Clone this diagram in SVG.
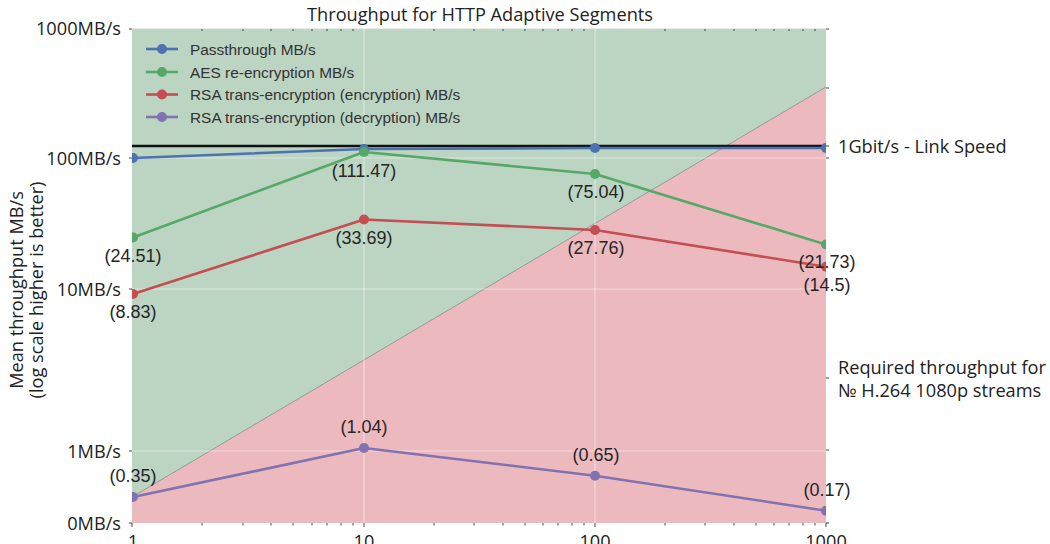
<svg xmlns="http://www.w3.org/2000/svg" width="1050" height="544" viewBox="0 0 1050 544">
  <style>
    .ax { font-family: "Open Sans", "DejaVu Sans", sans-serif; font-size: 18.2px; fill: #222; }
    .lg { font-family: "Liberation Sans", Arial, sans-serif; font-size: 15.4px; fill: #333; }
    .dl { font-family: "Liberation Sans", Arial, sans-serif; font-size: 18px; fill: #262626; text-anchor: middle; }
    .grid { stroke: #ffffff; stroke-opacity: 0.45; stroke-width: 1.2; }
    .tick { stroke: #444; stroke-width: 1; }
    .series { fill: none; stroke-width: 2.6; stroke-linejoin: round; }
  </style>
  <defs>
    <clipPath id="plotClip">
      <rect x="132" y="29" width="694" height="494"/>
    </clipPath>
  </defs>

  <rect width="1050" height="544" fill="#ffffff"/>

  <!-- plot background: feasible (green) above the stream-requirement diagonal, infeasible (pink) below -->
  <g id="background">
    <polygon points="132,29 826,29 826,87 132,497" fill="#bcd4c2"/>
    <polygon points="132,497 826,87 826,523 132,523" fill="#ecb9bf"/>
    <line x1="132" y1="497" x2="826" y2="87" stroke="#8f9a92" stroke-width="1"/>
    <line x1="132" y1="29" x2="826" y2="29" stroke="#cfd6d0" stroke-width="1"/>
  </g>

  <!-- grid -->
  <g id="grid">
    <line class="grid" x1="364" y1="29" x2="364" y2="523"/>
    <line class="grid" x1="595" y1="29" x2="595" y2="523"/>
    <line class="grid" x1="132" y1="158" x2="826" y2="158"/>
    <line class="grid" x1="132" y1="289" x2="826" y2="289"/>
    <line class="grid" x1="132" y1="451" x2="826" y2="451"/>
  </g>

  <!-- ticks -->
  <g id="ticks">
    <path class="tick" d="M129,29H132M129,158H132M129,289H132M129,451H132M129,523H132"/>
    <path class="tick" d="M826,29H829M826,88H829M826,146H829M826,158H829M826,378H829M826,450H829M826,523H829"/>
    <path class="tick" d="M132,523V527M364,523V527M595,523V527M826,523V527"/>
    <path class="tick" stroke-width="0.7" d="M202,523V525.5M243,523V525.5M271,523V525.5M293,523V525.5M312,523V525.5M327,523V525.5M341,523V525.5M353,523V525.5
      M434,523V525.5M474,523V525.5M503,523V525.5M525,523V525.5M543,523V525.5M558,523V525.5M572,523V525.5M584,523V525.5
      M665,523V525.5M705,523V525.5M734,523V525.5M756,523V525.5M774,523V525.5M789,523V525.5M803,523V525.5M815,523V525.5"/>
    <path class="tick" stroke-width="0.7" d="M202,29V31M243,29V31M271,29V31M293,29V31M312,29V31M327,29V31M341,29V31M353,29V31
      M434,29V31M474,29V31M503,29V31M525,29V31M543,29V31M558,29V31M572,29V31M584,29V31
      M665,29V31M705,29V31M734,29V31M756,29V31M774,29V31M789,29V31M803,29V31M815,29V31"/>
  </g>

  <!-- connectors: series lines and the link-speed line -->
  <g id="connectors" clip-path="url(#plotClip)">
    <line x1="132" y1="146" x2="826" y2="146" stroke="#111" stroke-width="2.6"/>
    <polyline class="series" stroke="#4c72b0" points="133,158 364,149 595,148 826,148"/>
    <polyline class="series" stroke="#55a868" points="133,237.5 364,152 595,174 826,244.5"/>
    <polyline class="series" stroke="#c44e52" points="133,294 364,219.5 595,230 826,266.7"/>
    <polyline class="series" stroke="#8172b2" points="133,497 364,448 595,475.7 826,510.7"/>
  </g>

  <g id="markers" clip-path="url(#plotClip)">
    <g id="passthrough" fill="#4c72b0">
      <circle cx="133" cy="158" r="5"/><circle cx="364" cy="149" r="5"/><circle cx="595" cy="148" r="5"/><circle cx="826" cy="148" r="5"/>
    </g>
    <g id="aes" fill="#55a868">
      <circle cx="133" cy="237.5" r="5"/><circle cx="364" cy="152" r="5"/><circle cx="595" cy="174" r="5"/><circle cx="826" cy="244.5" r="5"/>
    </g>
    <g id="rsa-enc" fill="#c44e52">
      <circle cx="133" cy="294" r="5"/><circle cx="364" cy="219.5" r="5"/><circle cx="595" cy="230" r="5"/><circle cx="826" cy="266.7" r="5"/>
    </g>
    <g id="rsa-dec" fill="#8172b2">
      <circle cx="133" cy="497" r="5"/><circle cx="364" cy="448" r="5"/><circle cx="595" cy="475.7" r="5"/><circle cx="826" cy="510.7" r="5"/>
    </g>
  </g>

  <!-- value labels -->
  <g id="value-labels">
    <text class="dl" x="133" y="262">(24.51)</text>
    <text class="dl" x="364" y="177">(111.47)</text>
    <text class="dl" x="596" y="198">(75.04)</text>
    <text class="dl" x="827" y="268">(21.73)</text>
    <text class="dl" x="133" y="318">(8.83)</text>
    <text class="dl" x="364" y="244">(33.69)</text>
    <text class="dl" x="596" y="254">(27.76)</text>
    <text class="dl" x="827" y="291">(14.5)</text>
    <text class="dl" x="133" y="482">(0.35)</text>
    <text class="dl" x="364" y="433">(1.04)</text>
    <text class="dl" x="596" y="461">(0.65)</text>
    <text class="dl" x="827" y="496">(0.17)</text>
  </g>

  <!-- legend -->
  <g id="legend">
    <g id="legend-passthrough">
      <line x1="146" y1="49" x2="178" y2="49" stroke="#4c72b0" stroke-width="2.6"/>
      <circle cx="162" cy="49" r="5" fill="#4c72b0"/>
      <text class="lg" x="190" y="54.5">Passthrough MB/s</text>
    </g>
    <g id="legend-aes">
      <line x1="146" y1="72" x2="178" y2="72" stroke="#55a868" stroke-width="2.6"/>
      <circle cx="162" cy="72" r="5" fill="#55a868"/>
      <text class="lg" x="190" y="77.5">AES re-encryption MB/s</text>
    </g>
    <g id="legend-rsa-enc">
      <line x1="146" y1="94.5" x2="178" y2="94.5" stroke="#c44e52" stroke-width="2.6"/>
      <circle cx="162" cy="94.5" r="5" fill="#c44e52"/>
      <text class="lg" x="190" y="100">RSA trans-encryption (encryption) MB/s</text>
    </g>
    <g id="legend-rsa-dec">
      <line x1="146" y1="117" x2="178" y2="117" stroke="#8172b2" stroke-width="2.6"/>
      <circle cx="162" cy="117" r="5" fill="#8172b2"/>
      <text class="lg" x="190" y="122.5">RSA trans-encryption (decryption) MB/s</text>
    </g>
  </g>

  <!-- axis labels and titles -->
  <g id="axis-text">
    <text class="ax" x="480" y="21" text-anchor="middle">Throughput for HTTP Adaptive Segments</text>
    <g text-anchor="end">
      <text class="ax" x="121" y="35">1000MB/s</text>
      <text class="ax" x="121" y="164.5">100MB/s</text>
      <text class="ax" x="121" y="295.5">10MB/s</text>
      <text class="ax" x="121" y="457.5">1MB/s</text>
      <text class="ax" x="121" y="529.5">0MB/s</text>
    </g>
    <g text-anchor="middle">
      <text class="ax" x="133" y="548">1</text>
      <text class="ax" x="364" y="548">10</text>
      <text class="ax" x="595" y="548">100</text>
      <text class="ax" x="826" y="548">1000</text>
    </g>
    <text class="ax" transform="translate(23,290) rotate(-90)" text-anchor="middle">Mean throughput MB/s</text>
    <text class="ax" transform="translate(43,290) rotate(-90)" text-anchor="middle">(log scale higher is better)</text>
    <text class="ax" x="838" y="152.5">1Gbit/s - Link Speed</text>
    <text class="ax" x="838" y="373.5">Required throughput for</text>
    <text class="ax" x="838" y="396.5">№ H.264 1080p streams</text>
  </g>
</svg>
